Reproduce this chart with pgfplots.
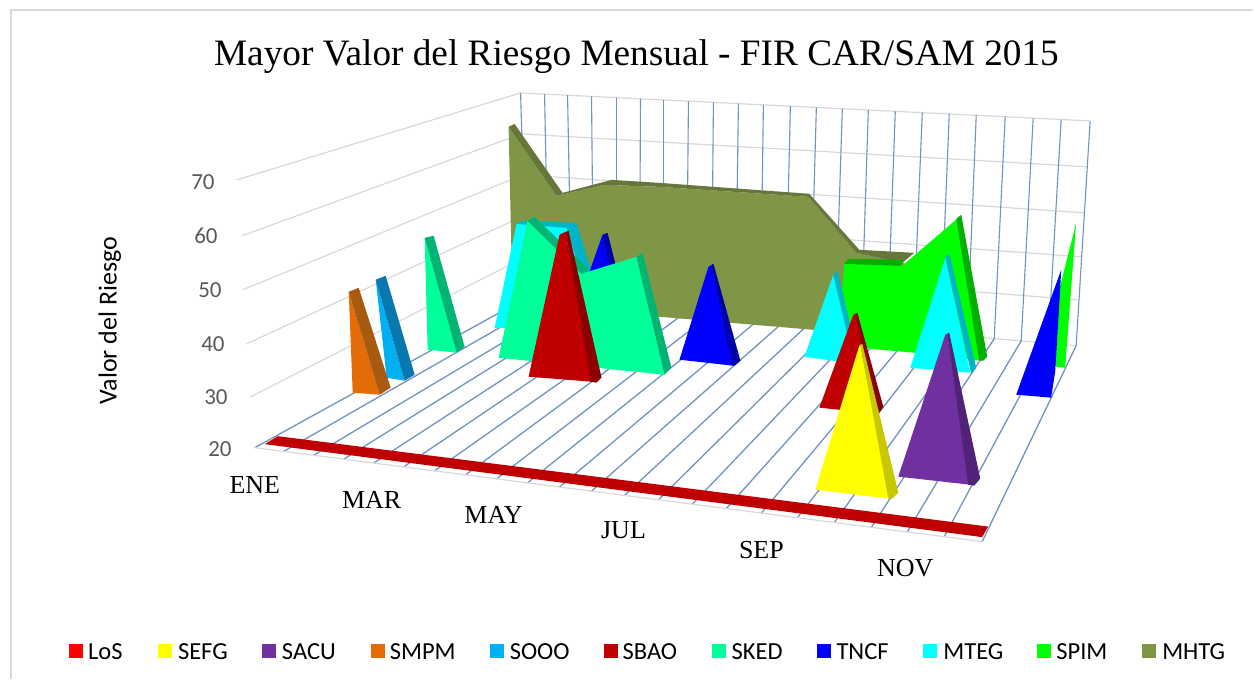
\documentclass[border=0pt]{standalone}
\usepackage{pgfplots}
\pgfplotsset{compat=1.18}
\usepackage{fontspec}
\setmainfont{Carlito}
\newfontfamily\serifa{Liberation Serif}
\definecolor{cwall}{HTML}{D9D9D9}
\definecolor{cgrid}{HTML}{6F93C4}
\definecolor{cLoS}{HTML}{C00000}
\definecolor{cLoSleg}{HTML}{FF0000}
\definecolor{cSEFG}{HTML}{FFFF00}
\definecolor{cSEFGd}{HTML}{C8C800}
\definecolor{cSACU}{HTML}{7030A0}
\definecolor{cSACUd}{HTML}{512378}
\definecolor{cSMPM}{HTML}{E36C09}
\definecolor{cSMPMd}{HTML}{A85A10}
\definecolor{cSOOO}{HTML}{00B0F0}
\definecolor{cSOOOd}{HTML}{0A78B0}
\definecolor{cSBAO}{HTML}{C00000}
\definecolor{cSBAOd}{HTML}{8B0000}
\definecolor{cSKED}{HTML}{00FF99}
\definecolor{cSKEDd}{HTML}{00B573}
\definecolor{cTNCF}{HTML}{0000FF}
\definecolor{cTNCFd}{HTML}{0000A8}
\definecolor{cMTEG}{HTML}{00FFFF}
\definecolor{cMTEGd}{HTML}{00B4C8}
\definecolor{cSPIM}{HTML}{00FF00}
\definecolor{cSPIMd}{HTML}{00B000}
\definecolor{cMHTG}{HTML}{7F9646}
\definecolor{cMHTGd}{HTML}{67773A}
\newcommand\poly[2]{\addplot[fill=#1,draw=none,forget plot] coordinates {#2} -- cycle;}
\newcommand\seg[3]{\addplot[color=#1,line width=#2,forget plot] coordinates {#3};}
\newcommand\lab[2]{\node[anchor=west,inner sep=0pt,font=\fontsize{24.5}{28}\selectfont] at (axis cs:#1,652) {#2};}
\newcommand\mon[3]{\node[inner sep=0pt,font=\serifa\fontsize{26}{30}\selectfont] at (axis cs:#1,#2) {#3};}
\newcommand\val[3]{\node[anchor=east,inner sep=0pt,text=black!65,font=\fontsize{23}{26}\selectfont] at (axis cs:#1,#2) {#3};}
\begin{document}
\begin{tikzpicture}
\fill[white] (0,0) rectangle (1254pt,680pt);
\begin{axis}[
  width=1254pt,height=680pt,scale only axis,
  xmin=0,xmax=1254,ymin=0,ymax=680,y dir=reverse,
  hide axis,clip=false,
]
% frame
\seg{cwall}{2pt}{(11,680)(11,10)(1254,10)}
% left wall lines
\seg{cwall}{1.2pt}{(237,180)(521,93)}
\seg{cwall}{1.2pt}{(242,236)(522,134)}
\seg{cwall}{1.2pt}{(243,290)(523,175)}
\seg{cwall}{1.2pt}{(247,344)(524,216)}
\seg{cwall}{1.2pt}{(251,397)(526,257)}
% back wall horizontal lines
\seg{cwall}{1.2pt}{(521,93)(1091,121)}
\seg{cwall}{1.2pt}{(522,134)(1088,167)}
\seg{cwall}{1.2pt}{(523,175)(1085,213)}
\seg{cwall}{1.2pt}{(524,216)(1082,257)}
\seg{cwall}{1.2pt}{(526,257)(1078,300)}
\seg{cwall}{1.2pt}{(527,298)(1077,346)}
% back wall verticals
\seg{cgrid}{1.1pt}{(521,93)(527,298)}
\seg{cgrid}{1.1pt}{(545,94.2)(549,299.9)}
\seg{cgrid}{1.1pt}{(568,95.3)(572,301.9)}
\seg{cgrid}{1.1pt}{(592,96.5)(594,303.8)}
\seg{cgrid}{1.1pt}{(617,97.7)(617,305.9)}
\seg{cgrid}{1.1pt}{(641,98.9)(640,307.9)}
\seg{cgrid}{1.1pt}{(664,100)(664,310)}
\seg{cgrid}{1.1pt}{(689,101.2)(687,312)}
\seg{cgrid}{1.1pt}{(714,102.5)(712,314.2)}
\seg{cgrid}{1.1pt}{(739,103.7)(736,316.2)}
\seg{cgrid}{1.1pt}{(764,104.9)(761,318.4)}
\seg{cgrid}{1.1pt}{(791,106.3)(786,320.6)}
\seg{cgrid}{1.1pt}{(817,107.5)(811,322.8)}
\seg{cgrid}{1.1pt}{(843,108.8)(836,325)}
\seg{cgrid}{1.1pt}{(869,110.1)(862,327.2)}
\seg{cgrid}{1.1pt}{(896,111.4)(888,329.5)}
\seg{cgrid}{1.1pt}{(923,112.7)(914,331.8)}
\seg{cgrid}{1.1pt}{(950,114.1)(941,334.1)}
\seg{cgrid}{1.1pt}{(977,115.4)(968,336.5)}
\seg{cgrid}{1.1pt}{(1006,116.8)(995,338.9)}
\seg{cgrid}{1.1pt}{(1034,118.2)(1022,341.2)}
\seg{cgrid}{1.1pt}{(1062,119.6)(1049,343.6)}
\seg{cgrid}{1.1pt}{(1091,121)(1077,346)}
% floor lines
\seg{cgrid}{1.3pt}{(255,448)(527,298)}
\seg{cgrid}{1.3pt}{(284,451.7)(549,299.9)}
\seg{cgrid}{1.3pt}{(314,455.6)(572,301.9)}
\seg{cgrid}{1.3pt}{(344,459.5)(594,303.8)}
\seg{cgrid}{1.3pt}{(374,463.4)(617,305.9)}
\seg{cgrid}{1.3pt}{(404,467.2)(640,307.9)}
\seg{cgrid}{1.3pt}{(435,471.2)(664,310)}
\seg{cgrid}{1.3pt}{(466,475.2)(687,312)}
\seg{cgrid}{1.3pt}{(497,479.2)(712,314.2)}
\seg{cgrid}{1.3pt}{(528,483.2)(736,316.2)}
\seg{cgrid}{1.3pt}{(560,487.4)(761,318.4)}
\seg{cgrid}{1.3pt}{(592,491.5)(786,320.6)}
\seg{cgrid}{1.3pt}{(625,495.8)(811,322.8)}
\seg{cgrid}{1.3pt}{(659,500.2)(836,325)}
\seg{cgrid}{1.3pt}{(693,504.5)(862,327.2)}
\seg{cgrid}{1.3pt}{(727,508.9)(888,329.5)}
\seg{cgrid}{1.3pt}{(762,513.5)(914,331.8)}
\seg{cgrid}{1.3pt}{(798,518.1)(941,334.1)}
\seg{cgrid}{1.3pt}{(835,522.9)(968,336.5)}
\seg{cgrid}{1.3pt}{(872,527.7)(995,338.9)}
\seg{cgrid}{1.3pt}{(908,532.3)(1022,341.2)}
\seg{cgrid}{1.3pt}{(945,537.1)(1049,343.6)}
\seg{cgrid}{1.3pt}{(983,542)(1077,346)}
\seg{cwall}{1.2pt}{(255,448)(983,542)}
% MHTG
\poly{cMHTG}{(509,127)(557,196)(605,185)(660,187)(809,197)(857,253)(905,263)(905,338)(813,330)(660,317)(513,304)}
\poly{cMHTGd}{(509,127)(515,124)(563,193)(612,180)(660,183)(810,194)(860,250)(915,253)(903,263)(857,253)(809,197)(660,187)(605,185)(557,196)}
% SPIM
\poly{cSPIM}{(845,264)(903,266)(959,218)(983,361)(915,353)(870,349)(838,345)}
\poly{cSPIMd}{(845,264)(849,259)(905,260)(901,266)}
\poly{cSPIMd}{(962,215)(988,357)(984,361)(980,361)(957,219)}
\poly{cSPIM}{(1077,223)(1066,368)(1057,367)(1045,350)}
% MTEG
\poly{cMTEG}{(495,328)(517,224)(567,227)(600,330)}
\poly{cMTEGd}{(517,224)(523,221)(577,223)(567,228)}
\poly{cMTEGd}{(567,227)(577,223)(592,272)(582,276)}
\poly{cMTEG}{(834,275)(805,357)(855,364)}
\poly{cMTEGd}{(834,275)(838,271)(860,362)(855,364)}
\poly{cMTEG}{(946,258)(911,368)(971,373)}
\poly{cMTEGd}{(946,257)(950,254)(977,368)(972,374)}
% TNCF
\poly{cTNCF}{(603,235)(580,300)(630,300)}
\poly{cTNCFd}{(603,235)(608,233)(625,300)(618,300)}
\poly{cTNCF}{(709,267)(712,265)(734,366)(680,360)}
\poly{cTNCFd}{(712,265)(714,264)(741,361)(735,366)(733,366)}
\poly{cTNCF}{(1062,270)(1017,395)(1052,398)(1056,372)(1061,290)}
% SKED
\poly{cSKED}{(425,238)(428,350)(457,353)}
\poly{cSKEDd}{(425,238)(434,236)(465,347)(457,353)}
\poly{cSKED}{(528,221)(499,358)(665,375)(637,257)(582,274)}
\poly{cSKEDd}{(528,221)(535,217)(590,270)(582,274)}
\poly{cSKEDd}{(637,257)(643,253)(672,368)(665,375)}
% SBAO
\poly{cSBAO}{(560,235)(566,232)(592,382)(529,377)}
\poly{cSBAOd}{(566,232)(569,231)(602,378)(597,383)(591,382)}
\poly{cSBAO}{(854,315)(857,314)(878,414)(820,408)}
\poly{cSBAOd}{(856,314)(858,313)(884,407)(880,413)(876,413)}
% SOOO
\poly{cSOOO}{(376,280)(387,378)(405,381)}
\poly{cSOOOd}{(376,280)(386,276)(415,375)(405,381)}
% SMPM
\poly{cSMPM}{(349,292)(353,393)(380,395)}
\poly{cSMPMd}{(349,292)(359,288)(391,388)(380,395)}
% SACU
\poly{cSACU}{(946,335)(948,334)(970,485)(899,477)}
\poly{cSACUd}{(948,334)(950,333)(981,479)(975,486)(969,485)}
% SEFG
\poly{cSEFG}{(860,346)(861,345)(890,499)(816,490)}
\poly{cSEFGd}{(861,345)(863,344)(899,493)(893,499)(889,499)}
% LoS
\poly{cLoS}{(265,444.5)(278,436.5)(989,527)(983,537.5)}
% legend swatches
\poly{cLoSleg}{(69,645)(83,645)(83,659)(69,659)}
\poly{cSEFG}{(158,645)(172,645)(172,659)(158,659)}
\poly{cSACU}{(262,645)(276,645)(276,659)(262,659)}
\poly{cSMPM}{(371,645)(385,645)(385,659)(371,659)}
\poly{cSOOO}{(490,645)(504,645)(504,659)(490,659)}
\poly{cSBAO}{(604,645)(618,645)(618,659)(604,659)}
\poly{cSKED}{(713,645)(727,645)(727,659)(713,659)}
\poly{cTNCF}{(818,645)(832,645)(832,659)(818,659)}
\poly{cMTEG}{(924,645)(938,645)(938,659)(924,659)}
\poly{cSPIM}{(1038,645)(1052,645)(1052,659)(1038,659)}
\poly{cMHTG}{(1143,645)(1157,645)(1157,659)(1143,659)}
% legend text
\lab{88}{LoS}
\lab{178}{SEFG}
\lab{282}{SACU}
\lab{390}{SMPM}
\lab{510}{SOOO}
\lab{623}{SBAO}
\lab{732}{SKED}
\lab{837}{TNCF}
\lab{944}{MTEG}
\lab{1057}{SPIM}
\lab{1163}{MHTG}
% title
\node[inner sep=0pt,font=\serifa\fontsize{37.3}{42}\selectfont] at (axis cs:637,57) {Mayor Valor del Riesgo Mensual - FIR CAR/SAM 2015};
% month labels
\mon{255}{485}{ENE}
\mon{372}{500}{MAR}
\mon{494}{515}{MAY}
\mon{624}{531}{JUL}
\mon{762}{550}{SEP}
\mon{906}{569}{NOV}
% value ticks
\val{215}{182}{70}
\val{218}{236}{60}
\val{222}{290}{50}
\val{225}{344}{40}
\val{228}{397}{30}
\val{232}{449}{20}
\node[rotate=90,inner sep=0pt,font=\fontsize{26}{30}\selectfont] at (axis cs:110,321) {Valor del Riesgo};
\end{axis}
\path[use as bounding box] (0,0) rectangle (1254pt,680pt);
\end{tikzpicture}
\end{document}
